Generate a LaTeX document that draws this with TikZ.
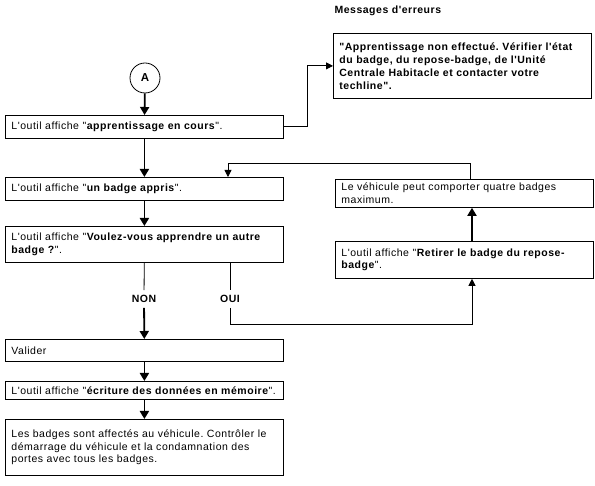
\documentclass[tikz,border=0pt]{standalone}
\usepackage{fontspec}
\setmainfont{Liberation Sans}[LetterSpace=5, Ligatures=TeXOff]
\usetikzlibrary{arrows.meta}
\begin{document}
\frenchspacing
\hyphenpenalty=10000
\begin{tikzpicture}[x=1pt, y=-1pt,
  every node/.style={font=\fontsize{10.5}{12.5}\selectfont},
  box/.style={draw, line width=0.8pt, anchor=north west, align=left,
    inner xsep=6pt, inner ysep=2pt},
  mainbox/.style={box, text width=266pt},
  sidebox/.style={box, text width=246pt},
  thickarrow/.style={line width=1.8pt, -{Triangle[length=8pt,width=9pt]}},
  thinarrow/.style={line width=0.8pt, -{Triangle[length=7pt,width=7pt]}},
  thinline/.style={line width=0.8pt}]
  \useasboundingbox (0,0) rectangle (595,486);
  \node[anchor=west, font=\fontsize{10.5}{12}\selectfont\bfseries] (title) at (331,11) {Messages d'erreurs};
  \node[draw, circle, line width=0.8pt, minimum size=30pt, inner sep=0pt, font=\fontsize{11.5}{12}\selectfont\bfseries] (A) at (145,78) {A};
  \node[mainbox, minimum height=23pt] (cours) at (5,115) {L'outil affiche "\textbf{apprentissage en cours}".};
  \node[mainbox, minimum height=23pt] (appris) at (5,177) {L'outil affiche "\textbf{un badge appris}".};
  \node[mainbox, minimum height=36pt] (autre) at (5,226) {L'outil affiche "\textbf{Voulez-vous apprendre un autre}\\\textbf{badge ?}".};
  \node[font=\fontsize{10.5}{12}\selectfont\bfseries, inner sep=5pt] (non) at (144,299) {NON};
  \node[font=\fontsize{10.5}{12}\selectfont\bfseries, inner sep=5pt] (oui) at (230,299) {OUI};
  \node[mainbox, minimum height=22pt] (valider) at (5,339) {Valider};
  \node[mainbox, minimum height=18pt] (ecriture) at (5,381) {L'outil affiche "\textbf{écriture des données en mémoire}".};
  \node[mainbox, minimum height=56pt] (fin) at (5,419) {Les badges sont affectés au véhicule. Contrôler le\\démarrage du véhicule et la condamnation des\\portes avec tous les badges.};
  \node[sidebox, minimum height=65pt, font=\fontsize{10.5}{13}\selectfont\bfseries] (erreur) at (333,33) {"Apprentissage non effectué. Vérifier l'état\\du badge, du repose-badge, de l'Unité\\Centrale Habitacle et contacter votre\\techline".};
  \node[sidebox, minimum height=28pt] (quatre) at (335,179) {Le véhicule peut comporter quatre badges\\maximum.};
  \node[sidebox, minimum height=37pt] (retirer) at (335,241) {L'outil affiche "\textbf{Retirer le badge du repose-}\\\textbf{badge}".};
  \coordinate (E) at (307,0);
  \coordinate (B) at (472,324);
  \coordinate (R) at (228,163);
  \draw[thickarrow] (A) -- (cours);
  \draw[thickarrow] (cours) -- (appris);
  \draw[thickarrow] (appris) -- (autre);
  \draw[thinline] (autre) -- (non);
  \draw[thickarrow] (non) -- (valider);
  \draw[thickarrow] (valider) -- (ecriture);
  \draw[thickarrow] (ecriture) -- (fin);
  \draw[thinarrow] (cours.east) -- (cours.east -| E) |- (erreur.west);
  \draw[thinline] (autre.south -| oui) -- (oui);
  \draw[thinarrow] (oui.south) |- (B) -- (B |- retirer.south);
  \draw[thickarrow] (B |- retirer.north) -- (B |- quatre.south);
  \draw[thinarrow] ([xshift=6pt]quatre.north) |- (R) -- (R |- appris.north);
\end{tikzpicture}
\end{document}
